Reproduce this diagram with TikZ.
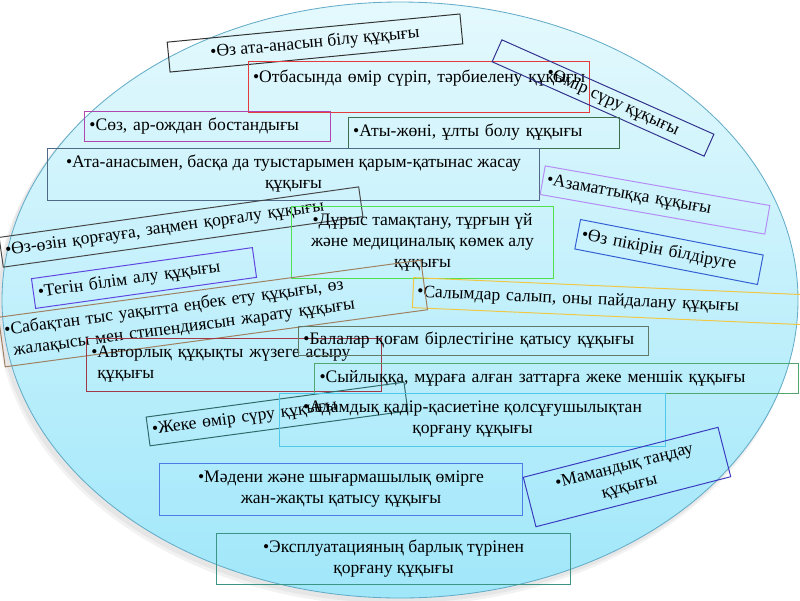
\documentclass[tikz,border=0pt]{standalone}
\usepackage{fontspec}
\setmainfont{Liberation Serif}
\usepackage{xcolor}
\definecolor{EllTop}{RGB}{228,249,253}
\definecolor{EllBot}{RGB}{160,231,250}
\definecolor{EllLine}{RGB}{100,172,200}
\definecolor{BoxBlack}{RGB}{50,50,50}
\definecolor{BoxRed}{RGB}{228,60,60}
\definecolor{BoxNavy}{RGB}{50,50,140}
\definecolor{BoxPurple}{RGB}{176,70,176}
\definecolor{BoxDkGreen}{RGB}{60,110,80}
\definecolor{BoxSlate}{RGB}{80,105,135}
\definecolor{BoxLilac}{RGB}{180,140,245}
\definecolor{BoxGray}{RGB}{70,70,70}
\definecolor{BoxLime}{RGB}{80,225,80}
\definecolor{BoxBlue}{RGB}{50,95,210}
\definecolor{BoxViolet}{RGB}{95,70,225}
\definecolor{BoxGold}{RGB}{240,200,70}
\definecolor{BoxBrown}{RGB}{160,128,96}
\definecolor{BoxMaroon}{RGB}{160,56,72}
\definecolor{BoxSage}{RGB}{96,120,104}
\definecolor{BoxGreen}{RGB}{80,168,112}
\definecolor{BoxTeal}{RGB}{46,106,106}
\definecolor{BoxCyan}{RGB}{80,200,232}
\definecolor{BoxSky}{RGB}{76,124,232}
\definecolor{BoxIndigo}{RGB}{58,58,192}
\definecolor{BoxSea}{RGB}{60,148,132}
\usepackage{tikz}

\begin{document}
\begin{tikzpicture}[x=0.025cm,y=-0.025cm,
  font=\fontsize{12.5}{15}\selectfont,
  bx/.style={draw,line width=0.7pt,inner xsep=3pt,inner ysep=0pt,text=black}]
\useasboundingbox (0,0) rectangle (800,600);
\clip (0,0) rectangle (800,600);
% oval
\fill[black,opacity=0.05] (396,306) ellipse [x radius=400,y radius=300];
\fill[black,opacity=0.05] (397,304) ellipse [x radius=399,y radius=299];
\shade[top color=EllTop,bottom color=EllBot,draw=EllLine,line width=0.6pt]
  (400,300) ellipse [x radius=398,y radius=298];
% upper boxes
\node[bx,draw=BoxBlack,minimum width=7.35cm,minimum height=0.75cm,rotate=5.5] (ata) at (315,43) {•Өз ата-анасын білу құқығы};
\node[bx,draw=BoxRed,minimum width=8.5cm,minimum height=1.275cm,text width=236pt,align=left] (otbasy) at (419,86.5) {\mbox{•Отбасында өмір сүріп, тәрбиелену құқығы}\\ \mbox{}};
\node[bx,draw=BoxNavy,minimum width=5.8cm,minimum height=0.6cm,rotate=-24] (omir) at (603,98) {\hspace{1.2em}•Өмір сүру құқығы};
\node[bx,draw=BoxPurple,minimum width=6.125cm,minimum height=0.75cm,text width=168pt,align=left] (soz) at (207.5,126) {•Сөз, ар-ождан бостандығы};
\node[bx,draw=BoxDkGreen,minimum width=6.75cm,minimum height=0.775cm,text width=186pt,align=left] (aty) at (484,132.5) {•Аты-жөні, ұлты болу құқығы};
\node[bx,draw=BoxSlate,minimum width=12.275cm,minimum height=1.3cm,align=center] (atana) at (293.5,174) {•Ата-анасымен, басқа да туыстарымен қарым-қатынас жасау\\ құқығы};
\node[bx,draw=BoxLilac,minimum width=5.7cm,minimum height=0.725cm,text width=156pt,align=left,rotate=-10] (azamat) at (655,200) {•Азаматтыққа құқығы};
% middle boxes
\node[bx,draw=BoxGray,minimum width=9.075cm,minimum height=0.75cm,text width=252pt,align=left,rotate=8] (ozozin) at (181,227) {•Өз-өзін қорғауға, заңмен қорғалу құқығы};
\node[bx,draw=BoxLime,minimum width=6.525cm,minimum height=1.8cm,align=center] (durys) at (422.5,242) {•Дұрыс тамақтану, тұрғын үй\\ және медициналық көмек алу\\ құқығы};
\node[bx,draw=BoxBlue,minimum width=4.65cm,minimum height=0.75cm,text width=126pt,align=left,rotate=-11] (pikir) at (669,252) {•Өз пікірін білдіруге};
\node[bx,draw=BoxViolet,minimum width=5.575cm,minimum height=0.75cm,text width=152pt,align=left,rotate=8] (tegin) at (144,278) {•Тегін білім алу құқығы};
\node[bx,draw=BoxGold,minimum width=10.75cm,minimum height=0.75cm,text width=300pt,align=left,rotate=-2.5] (salym) at (628,302) {•Салымдар салып, оны пайдалану құқығы};
\node[bx,draw=BoxBrown,minimum width=10.65cm,minimum height=1.25cm,text width=297pt,align=left,rotate=7.7] (sabak) at (213,313.5) {•Сабақтан тыс уақытта еңбек ету құқығы, өз\\ \hphantom{•}жалақысы мен стипендиясын жарату құқығы};
\node[bx,draw=BoxMaroon,minimum width=7.35cm,minimum height=1.325cm,text width=203pt,align=left] (avtor) at (234,364.5) {•Авторлық құқықты жүзеге асыру\\ \hphantom{•}құқығы};
\node[bx,draw=BoxSage,minimum width=8.725cm,minimum height=0.725cm,text width=242pt,align=left] (balalar) at (473.5,340.5) {•Балалар қоғам бірлестігіне қатысу құқығы};
\node[bx,draw=BoxGreen,minimum width=12.075cm,minimum height=0.75cm,text width=337pt,align=left] (syilyk) at (556.5,378) {•Сыйлыққа, мұраға алған заттарға жеке меншік құқығы};
% lower boxes
\node[bx,draw=BoxTeal,minimum width=6.5cm,minimum height=0.725cm,text width=179pt,align=left,rotate=7.7] (zheke) at (277,414) {•Жеке өмір сүру құқығы};
\node[bx,draw=BoxCyan,minimum width=9.625cm,minimum height=1.325cm,align=center] (adam) at (472.5,419.5) {•Адамдық қадір-қасиетіне қолсұғушылықтан\\ қорғану құқығы};
\node[bx,draw=BoxSky,minimum width=9.05cm,minimum height=1.3cm,align=center] (madeni) at (341,489) {•Мәдени және шығармашылық өмірге\\ жан-жақты қатысу құқығы};
\node[bx,draw=BoxIndigo,minimum width=5.025cm,minimum height=1.275cm,align=center,rotate=14.4] (mamandyk) at (627,477) {•Мамандық таңдау\\ құқығы};
\node[bx,draw=BoxSea,minimum width=8.825cm,minimum height=1.275cm,align=center] (ekspl) at (393.5,558.5) {•Эксплуатацияның барлық түрінен\\ қорғану құқығы};
\end{tikzpicture}
\end{document}
